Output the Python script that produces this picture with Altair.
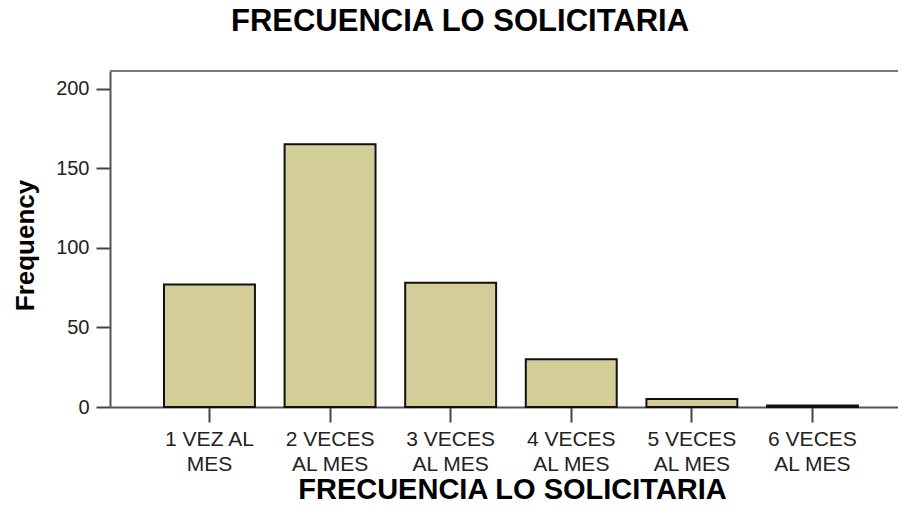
import altair as alt
import pandas as pd

categories = ["1 VEZ AL MES", "2 VECES AL MES", "3 VECES AL MES",
              "4 VECES AL MES", "5 VECES AL MES", "6 VECES AL MES"]
frequencies = [77, 165, 78, 30, 5, 1]
y_ticks = [0, 50, 100, 150, 200]

df = pd.DataFrame({"cat": categories, "freq": frequencies})

W, H = 788, 336
FONT = "Liberation Sans"

label_expr = (
    "datum.value == '1 VEZ AL MES' ? ['1 VEZ AL', 'MES'] : "
    "[slice(datum.value, 0, indexof(datum.value, ' AL')), 'AL MES']"
)

bars = alt.Chart(df).mark_bar(
    fill="#d3ce97", stroke="#111111", strokeWidth=2
).encode(
    x=alt.X("cat:N", sort=categories,
            scale=alt.Scale(paddingInner=0.246, paddingOuter=0.39, align=0.574),
            axis=alt.Axis(title="FRECUENCIA LO SOLICITARIA", labelAngle=0,
                          labelExpr=label_expr, labelFont=FONT, labelFontSize=21,
                          labelColor="#222222", labelLineHeight=25, labelPadding=6,
                          labelBaseline="top",
                          tickSize=15, tickColor="#444444", tickWidth=2,
                          domainColor="#555555", domainWidth=2,
                          titleFont=FONT, titleFontSize=29, titleFontWeight="bold",
                          titleColor="#000000", titleBaseline="alphabetic",
                          titleAlign="center", titleX=402, titleY=91,
                          labelOverlap=False)),
    y=alt.Y("freq:Q",
            scale=alt.Scale(domain=[0, 211], nice=False),
            axis=alt.Axis(title="Frequency", values=y_ticks, grid=False,
                          labelFont=FONT, labelFontSize=20, labelColor="#222222",
                          labelPadding=7, tickSize=14, tickColor="#444444", tickWidth=2,
                          domainColor="#555555", domainWidth=2,
                          titleFont=FONT, titleFontSize=26, titleFontWeight="bold",
                          titleColor="#000000", titleBaseline="alphabetic",
                          titleAlign="center", titleAngle=-90,
                          titleX=-77, titleY=174)),
)

top_border = alt.Chart(df).mark_rule(color="#7a7a7a", strokeWidth=2).encode(
    x=alt.value(0), x2=alt.value(W), y=alt.value(0)
)

chart = alt.layer(bars, top_border).properties(
    width=W, height=H,
    autosize=alt.AutoSizeParams(type="none"),
    padding={"left": 102, "top": 63, "right": 0, "bottom": 93},
    title=alt.TitleParams("FRECUENCIA LO SOLICITARIA", font=FONT, fontSize=31,
                          fontWeight="bold", color="#000000", anchor="middle",
                          baseline="alphabetic", offset=8, dx=-44),
).configure_view(fill="#efefef", stroke=None).configure(background="#ffffff")

chart.save("out.html", embed_options={"renderer": "svg", "actions": False})
